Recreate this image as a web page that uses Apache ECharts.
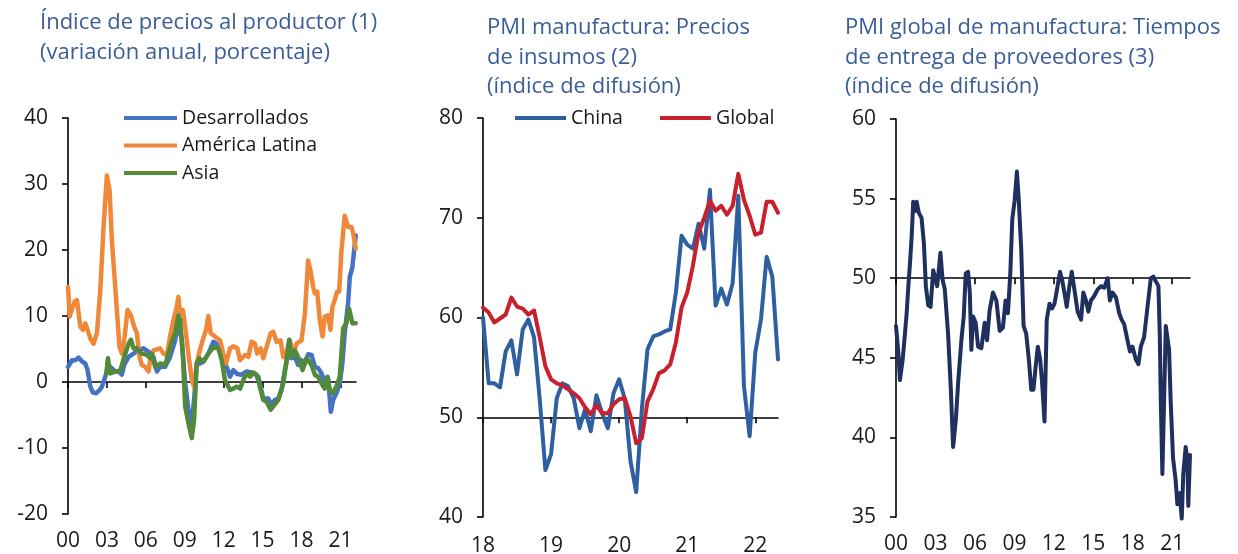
<!DOCTYPE html>
<html>
<head>
<meta charset="utf-8">
<script src="https://cdn.jsdelivr.net/npm/echarts@6/dist/echarts.min.js"></script>
<style>
html, body { margin: 0; padding: 0; background: #fff; }
#chart { width: 1238px; height: 554px; }
</style>
</head>
<body>
<div id="chart"></div>
<script>
// ---- panel 1: indice de precios al productor (var. anual, %) ----
const desX = [2000.00,2000.31,2000.56,2000.82,2001.08,2001.33,2001.51,2001.72,2001.92,2002.18,
  2002.44,2002.62,2002.79,2003.00,2003.26,2003.64,2003.90,2004.15,2004.33,2004.67,
  2005.05,2005.44,2005.82,2006.21,2006.59,2006.85,2007.10,2007.49,2007.87,2008.26,
  2008.51,2008.77,2009.03,2009.28,2009.54,2009.72,2009.92,2010.18,2010.44,2010.82,
  2011.21,2011.59,2011.85,2012.23,2012.49,2012.74,2013.05,2013.38,2013.77,2014.28,
  2014.67,2015.05,2015.44,2015.69,2015.95,2016.21,2016.46,2016.72,2016.97,2017.23,
  2017.49,2017.74,2018.00,2018.26,2018.51,2018.77,2019.03,2019.28,2019.54,2019.79,
  2020.05,2020.26,2020.44,2020.69,2020.95,2021.15,2021.33,2021.59,2021.72,2021.92,2022.18];
const desarrollados = [2.3,3.3,3.3,3.7,3.1,2.8,1.8,-0.7,-1.6,-1.7,
  -1.2,-0.7,0.3,1.6,2.3,1.6,1.6,1.1,2.6,3.8,
  4.3,4.9,5.1,4.6,3.8,1.6,2.3,2.3,3.8,6.3,
  9.4,6.3,-0.2,-4.2,-6.2,-2.7,2.6,2.8,3.1,4.3,
  6.1,5.6,3.6,2.3,0.8,1.8,1.2,1.1,1.6,1.4,
  0.8,-2.5,-2.5,-3.5,-2.7,-2.5,-1.2,1.8,4.3,3.6,
  3.8,2.6,3.3,2.8,4.2,4.1,2.3,2.1,1.3,0.1,
  0.6,-4.5,-2.7,-1.7,-0.2,2.8,7.4,11.9,15.9,17.4,22.2];

const latamX = [2000.00,2000.13,2000.23,2000.49,2000.69,2000.95,2001.15,2001.33,2001.51,2001.72,
  2001.97,2002.23,2002.49,2002.74,2003.00,2003.21,2003.38,2003.64,2003.97,2004.15,
  2004.33,2004.59,2004.85,2005.10,2005.31,2005.51,2005.69,2005.95,2006.21,2006.33,
  2006.59,2007.10,2007.36,2007.62,2007.87,2008.13,2008.38,2008.51,2008.64,2008.85,
  2009.03,2009.28,2009.54,2009.72,2009.92,2010.13,2010.38,2010.64,2010.82,2011.00,
  2011.33,2011.72,2011.97,2012.18,2012.49,2012.74,2013.05,2013.26,2013.64,2013.90,
  2014.15,2014.41,2014.59,2014.85,2015.05,2015.31,2015.62,2015.82,2016.08,2016.38,
  2016.59,2016.85,2017.10,2017.36,2017.62,2018.00,2018.26,2018.51,2018.69,2018.90,
  2019.03,2019.21,2019.41,2019.62,2019.79,2020.05,2020.23,2020.38,2020.56,2020.74,
  2020.90,2021.08,2021.33,2021.46,2021.59,2021.85,2021.97,2022.18];
const americaLatina = [14.4,9.9,9.6,12.1,12.4,8.4,7.9,8.9,7.9,6.6,
  5.8,7.4,13.9,23.5,31.3,29.0,21.5,14.4,5.3,4.3,
  6.3,10.9,10.1,8.4,7.4,3.8,2.6,2.3,1.6,3.3,
  4.8,5.1,4.3,4.1,6.9,9.4,11.4,12.9,10.4,10.9,
  8.4,4.3,0.3,-0.7,2.8,4.6,6.3,7.9,10.0,7.4,
  6.9,6.3,4.3,2.8,5.1,5.4,5.1,3.3,4.1,3.8,
  6.1,5.8,4.3,5.1,3.6,5.3,7.4,7.6,6.1,6.3,
  3.8,4.6,6.3,4.3,5.8,6.3,10.4,18.4,16.9,14.4,
  13.4,13.7,9.4,6.9,9.9,10.1,7.9,11.4,12.4,13.7,
  13.7,19.9,25.2,25.0,23.5,23.5,22.7,20.2];

const asiaX = [2002.95,2003.08,2003.25,2003.64,2004.03,2004.33,2004.67,2004.85,2005.05,2005.31,
  2005.69,2006.08,2006.33,2006.46,2006.72,2007.10,2007.49,2007.74,2008.00,2008.26,
  2008.51,2008.64,2008.85,2009.03,2009.28,2009.54,2009.72,2009.92,2010.13,2010.44,
  2010.82,2011.21,2011.59,2011.85,2012.10,2012.49,2012.74,2013.00,2013.26,2013.51,
  2013.77,2014.03,2014.28,2014.54,2014.79,2015.05,2015.31,2015.62,2015.82,2016.21,
  2016.59,2016.85,2017.05,2017.23,2017.49,2017.74,2018.08,2018.38,2018.77,2019.03,
  2019.28,2019.54,2019.79,2020.00,2020.18,2020.38,2020.69,2020.95,2021.21,2021.46,
  2021.67,2021.77,2021.92,2022.18];
const asia = [1.2,3.6,1.3,1.6,1.7,3.8,5.8,6.4,5.1,5.1,
  4.3,4.1,3.6,4.3,2.3,2.8,2.6,4.3,6.1,7.4,
  10.1,9.4,4.3,-3.7,-6.2,-8.5,-5.7,2.8,3.6,3.1,
  4.3,5.3,5.1,3.3,0.3,-1.2,-1.0,-0.7,-1.0,0.3,
  1.3,0.8,1.4,1.1,-0.7,-2.7,-3.0,-4.2,-3.7,-2.7,
  -0.2,3.3,6.4,3.8,4.8,3.8,1.8,3.6,2.6,1.1,
  0.8,-0.2,-1.0,0.8,-1.2,-1.7,-0.7,0.8,8.1,8.9,
  11.1,11.1,8.9,8.9];

// ---- panel 2: PMI manufactura, precios de insumos (mensual, ene-2018 a may-2022) ----
const china = [60.0,53.4,53.4,53.0,56.6,57.7,54.3,58.8,59.8,58.0,51.8,44.7,
  46.3,51.9,53.4,53.1,51.9,48.9,50.8,48.6,52.2,50.4,48.9,52.4,
  53.8,51.8,45.6,42.5,50.8,56.8,58.1,58.3,58.6,58.8,62.5,68.2,
  67.3,66.9,69.4,66.9,72.8,61.2,62.9,61.3,63.4,72.2,53.1,48.1,
  56.5,59.8,66.1,64.1,55.8];
const global = [61.0,60.5,59.5,59.9,60.3,62.0,61.1,60.9,60.3,60.7,58.0,55.1,
  53.8,53.4,53.2,52.8,52.4,51.9,51.0,50.3,51.2,50.4,50.4,51.3,
  51.8,51.9,50.1,47.4,47.9,51.6,52.8,54.4,54.7,55.3,57.5,61.0,
  62.5,65.2,68.5,70.0,71.7,70.7,71.2,70.3,71.2,74.4,71.8,70.2,
  68.3,68.5,71.6,71.6,70.5];
const monthsX = china.map((v, i) => 2018 + i / 12);

// ---- panel 3: PMI global, tiempos de entrega de proveedores ----
const entregaX = [2000.00,2000.18,2000.30,2000.51,2000.68,2000.81,2000.93,2001.06,2001.19,2001.31,
  2001.44,2001.57,2001.74,2001.94,2002.12,2002.27,2002.45,2002.63,2002.83,2003.01,
  2003.13,2003.38,2003.54,2003.71,2003.96,2004.17,2004.34,2004.55,2004.72,2004.97,
  2005.15,2005.30,2005.48,2005.61,2005.73,2005.86,2006.06,2006.24,2006.49,2006.74,
  2006.92,2007.12,2007.37,2007.63,2007.88,2008.13,2008.33,2008.51,2008.69,2008.84,
  2009.02,2009.19,2009.32,2009.52,2009.70,2009.90,2010.10,2010.28,2010.45,2010.61,
  2010.78,2010.96,2011.11,2011.29,2011.46,2011.67,2011.87,2012.05,2012.22,2012.47,
  2012.63,2012.80,2012.98,2013.18,2013.36,2013.56,2013.81,2014.07,2014.24,2014.44,
  2014.62,2014.82,2015.08,2015.33,2015.58,2015.83,2016.09,2016.26,2016.46,2016.72,
  2016.97,2017.15,2017.35,2017.60,2017.78,2017.98,2018.23,2018.43,2018.61,2018.86,
  2019.12,2019.37,2019.57,2019.75,2019.95,2020.05,2020.13,2020.25,2020.38,2020.51,
  2020.63,2020.76,2020.88,2021.06,2021.26,2021.39,2021.57,2021.72,2021.84,2022.02,
  2022.15,2022.22,2022.35];
const entrega = [47.0,45.3,43.6,44.9,46.5,47.8,49.4,50.9,52.6,54.8,
  54.2,54.8,54.1,53.8,52.2,49.5,48.3,48.2,50.5,49.9,
  49.5,51.6,49.9,49.3,46.5,43.0,39.4,41.1,43.4,46.1,
  47.6,50.3,50.4,49.1,45.5,47.6,47.2,45.7,45.6,47.2,
  46.1,48.0,49.1,48.6,46.7,46.9,48.6,47.8,50.3,53.7,
  54.9,56.7,55.1,51.8,47.0,46.5,44.9,43.0,43.0,44.4,
  45.7,44.9,43.4,41.0,47.4,48.4,48.1,48.4,49.2,50.4,
  49.9,49.1,48.2,49.5,50.4,49.3,47.9,47.4,49.1,48.6,
  47.9,48.6,48.9,49.3,49.5,49.4,50.0,48.6,49.1,48.8,
  47.8,47.4,47.1,46.1,45.4,45.7,44.9,44.6,45.7,46.3,
  48.2,50.0,50.1,49.8,49.5,46.5,42.3,37.7,42.3,47.0,
  46.9,45.5,42.3,38.7,37.3,35.8,36.5,34.9,37.7,39.4,
  38.6,35.7,38.9];

const ticks1 = [2000, 2003, 2006, 2009, 2012, 2015, 2018, 2021];
const ticks2 = [2018, 2019, 2020, 2021, 2022];

const FONT = 'Open Sans';
const INK = '#1a1a1a';
const TITLE = '#3A5D98';

// grid geometry + y ranges
const panels = [
  { left: 68,  top: 118, width: 288, height: 396, xMin: 2000, xMax: 2022.2,  yMin: -20, yMax: 40, step: 10, base: 0,  ticks: ticks1, lblMargin: 17 },
  { left: 483, top: 118, width: 295, height: 399, xMin: 2018, xMax: 2018 + 52 / 12, yMin: 40, yMax: 80, step: 10, base: 50, ticks: ticks2, lblMargin: 19 },
  { left: 896, top: 119, width: 294, height: 398, xMin: 2000, xMax: 2022.35, yMin: 35, yMax: 60, step: 5, base: 50, ticks: ticks1, lblMargin: 17 }
];

const pairs = (xs, ys) => xs.map((x, i) => [x, ys[i]]);

const grids = [], xAxes = [], yAxes = [];
panels.forEach((p, i) => {
  grids.push({ left: p.left, top: p.top, width: p.width, height: p.height, containLabel: false, outerBoundsMode: 'none' });
  yAxes.push({
    type: 'value', gridIndex: i, min: p.yMin, max: p.yMax, interval: p.step,
    axisLine: { show: true, onZero: false, lineStyle: { color: '#000', width: 1.6 } },
    axisTick: { show: true, length: 6, lineStyle: { color: '#000', width: 1.6 } },
    axisLabel: { color: INK, fontSize: 21, fontFamily: FONT, margin: 20 },
    splitLine: { show: false }
  });
  // reference line at the base value, with the year ticks hanging from it
  const off = -(p.base - p.yMin) / (p.yMax - p.yMin) * p.height;
  xAxes.push({
    type: 'value', gridIndex: i, min: p.xMin, max: p.xMax, position: 'bottom', offset: off,
    axisLine: { show: true, onZero: false, lineStyle: { color: '#000', width: 1.6 } },
    axisTick: { show: true, customValues: p.ticks, length: 6, lineStyle: { color: '#000', width: 1.6 } },
    axisLabel: { show: false },
    splitLine: { show: false }
  });
  // year labels along the bottom
  xAxes.push({
    type: 'value', gridIndex: i, min: p.xMin, max: p.xMax, position: 'bottom',
    axisLine: { show: false, onZero: false },
    axisTick: { show: false },
    axisLabel: { customValues: p.ticks, formatter: v => String(v).slice(2),
      color: INK, fontSize: 21, fontFamily: FONT, margin: p.lblMargin },
    splitLine: { show: false }
  });
});

function line(name, xi, yi, data, color, w, extra) {
  return Object.assign({
    name, type: 'line', xAxisIndex: xi, yAxisIndex: yi, data,
    showSymbol: false, symbol: 'none', animation: false,
    lineStyle: { color, width: w, join: 'round', cap: 'round' },
    itemStyle: { color }
  }, extra || {});
}

const titleStyle = { fontSize: 22, fontWeight: 'normal', color: TITLE, fontFamily: FONT, lineHeight: 29.5 };
const legendText = { fontSize: 19.5, color: INK, fontFamily: FONT, lineHeight: 20 };

const option = {
  backgroundColor: '#fff',
  animation: false,
  title: [
    { text: 'Índice de precios al productor (1)\n(variación anual, porcentaje)', left: 40, top: 8, padding: 0, textStyle: titleStyle },
    { text: 'PMI manufactura: Precios\nde insumos (2)\n(índice de difusión)', left: 487, top: 13, padding: 0, textStyle: titleStyle },
    { text: 'PMI global de manufactura: Tiempos\nde entrega de proveedores (3)\n(índice de difusión)', left: 845, top: 13, padding: 0, textStyle: titleStyle }
  ],
  legend: [
    { data: ['Desarrollados', 'América Latina', 'Asia'], orient: 'vertical', left: 124, top: 108, padding: 0,
      icon: 'rect', itemWidth: 53, itemHeight: 4, itemGap: 7.5, textStyle: legendText },
    { data: ['China', 'Global'], orient: 'horizontal', left: 515, top: 108, padding: 0,
      icon: 'rect', itemWidth: 51, itemHeight: 4, itemGap: 37, textStyle: legendText }
  ],
  grid: grids,
  xAxis: xAxes,
  yAxis: yAxes,
  series: [
    line('Desarrollados', 0, 0, pairs(desX, desarrollados), '#4472C4', 4.5),
    line('América Latina', 0, 0, pairs(latamX, americaLatina), '#F0883A', 4.5),
    line('Asia', 0, 0, pairs(asiaX, asia), '#538A3A', 4.5),
    line('China', 2, 1, pairs(monthsX, china), '#2E5FA0', 4),
    line('Global', 2, 1, pairs(monthsX, global), '#C8202C', 4),
    line('Entrega', 4, 2, pairs(entregaX, entrega), '#1F305E', 4, { clip: false })
  ]
};

const chart = echarts.init(document.getElementById('chart'), null, { renderer: 'canvas' });
chart.setOption(option);
</script>
</body>
</html>
